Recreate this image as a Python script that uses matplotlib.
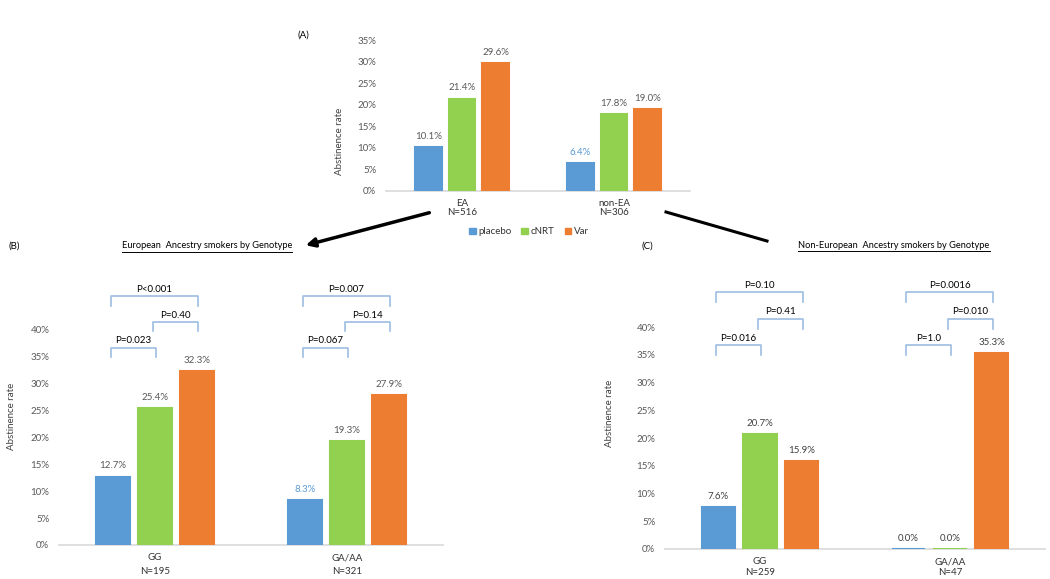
import numpy as np
import matplotlib
matplotlib.use('Agg')
import matplotlib.pyplot as plt
from matplotlib.patches import Patch, FancyArrowPatch
from matplotlib.lines import Line2D

plt.rcParams['font.family'] = ['Lato', 'DejaVu Sans']

treatments = ['placebo', 'cNRT', 'Var']
colors = ['#5B9BD5', '#92D050', '#ED7D31']

# panel A
a_groups = ['EA\nN=516', 'non-EA\nN=306']
a_values = [[0.101, 0.064], [0.214, 0.178], [0.296, 0.190]]

# panel B
b_groups = ['GG\nN=195', 'GA/AA\nN=321']
b_values = [[0.127, 0.083], [0.254, 0.193], [0.323, 0.279]]
b_pvals = [(0, 0, 2, 2, 'P<0.001'), (0, 1, 2, 1, 'P=0.40'), (0, 0, 1, 0, 'P=0.023'),
           (1, 0, 2, 2, 'P=0.007'), (1, 1, 2, 1, 'P=0.14'), (1, 0, 1, 0, 'P=0.067')]

# panel C
c_groups = ['GG\nN=259', 'GA/AA\nN=47']
c_values = [[0.076, 0.0], [0.207, 0.0], [0.159, 0.353]]
c_pvals = [(0, 0, 2, 2, 'P=0.10'), (0, 1, 2, 1, 'P=0.41'), (0, 0, 1, 0, 'P=0.016'),
           (1, 0, 2, 2, 'P=0.0016'), (1, 1, 2, 1, 'P=0.010'), (1, 0, 1, 0, 'P=1.0')]

W, H = 1050, 579
FS = 7
fig = plt.figure(figsize=(W / 100, H / 100), dpi=100)
fig.patch.set_facecolor('white')


def px_axes(x0, x1, ytop, ybot):
    return fig.add_axes([x0 / W, 1 - ybot / H, (x1 - x0) / W, (ybot - ytop) / H])


def bar_panel(ax, groups, values, ymax, ticktop, lblcolor, blue_low=None,
              lspace=1.2, xpad=5):
    x = np.arange(len(groups))
    offs = 0.22
    width = 0.175
    for i, vals in enumerate(values):
        xs = x + (i - 1) * offs
        ax.bar(xs, vals, width, color=colors[i], edgecolor=colors[i],
               linewidth=1.5, label=treatments[i], zorder=3)
        for j, (xx, v) in enumerate(zip(xs, vals)):
            c = lblcolor
            if blue_low is not None and (i, j) == blue_low:
                c = colors[0]
            ax.annotate('%.1f%%' % (v * 100), (xx, v), xytext=(0, 4.5),
                        textcoords='offset points', ha='center', va='bottom',
                        fontsize=FS, color=c)
    ax.set_xlim(-0.5, len(groups) - 0.5)
    ax.set_ylim(0, ymax)
    ax.set_yticks(np.arange(0, ticktop + 0.001, 0.05))
    ax.set_yticklabels(['%d%%' % round(t * 100) for t in ax.get_yticks()])
    ax.set_xticks(x)
    ax.set_xticklabels(groups, fontsize=FS, color='#333333', linespacing=lspace)
    ax.tick_params(axis='y', length=0, pad=7, labelsize=FS, labelcolor='#595959')
    ax.tick_params(axis='x', length=0, pad=xpad)
    for s in ['top', 'right', 'left']:
        ax.spines[s].set_visible(False)
    ax.spines['bottom'].set_color('#D9D9D9')
    ax.spines['bottom'].set_linewidth(1.2)
    ax.patch.set_alpha(0)


def brackets(ax, pvals):
    offs = 0.22
    for g, i, j, lev, txt in pvals:
        x0 = g + (i - 1) * offs - 0.01
        x1 = g + (j - 1) * offs + 0.005
        y = 0.367 + lev * 0.048
        ax.plot([x0, x0, x1, x1], [y - 0.018, y, y, y - 0.018],
                color='#9DBDE2', lw=1.2, clip_on=False)
        ax.text((x0 + x1) / 2, y + 0.004, txt, ha='center', va='bottom',
                fontsize=FS, color='black')


# (A)
axA = px_axes(386, 690, 40, 191)
bar_panel(axA, a_groups, a_values, 0.35, 0.35, '#595959', blue_low=(0, 1),
          lspace=1.0, xpad=6)
fig.text(340 / W, 1 - 141 / H, 'Abstinence rate', rotation=90, ha='center',
         va='center', fontsize=FS, color='#404040')
fig.text(303 / W, 1 - 35 / H, '(A)', ha='center', va='center', fontsize=FS)
handles = [Patch(facecolor=c, edgecolor=c) for c in colors]
fig.legend(handles, treatments, loc='center', bbox_to_anchor=(529 / W, 1 - 232 / H),
           ncol=3, frameon=False, fontsize=FS, handlelength=0.7, handleheight=0.7,
           handletextpad=0.3, columnspacing=1.0, labelcolor='#333333')

# (B)
axB = px_axes(59, 443, 276, 545)
bar_panel(axB, b_groups, b_values, 0.5, 0.40, '#595959', blue_low=(0, 1),
          lspace=1.65, xpad=6)
brackets(axB, b_pvals)
fig.text(12 / W, 1 - 416 / H, 'Abstinence rate', rotation=90, ha='center',
         va='center', fontsize=FS, color='#404040')
fig.text(14 / W, 1 - 246 / H, '(B)', ha='center', va='center', fontsize=FS)
tB = fig.text(207 / W, 1 - 246 / H, 'European  Ancestry smokers by Genotype',
              ha='center', va='center', fontsize=6.7)

# (C)
axC = px_axes(665, 1045, 271.5, 549)
bar_panel(axC, c_groups, c_values, 0.5, 0.40, '#404040', lspace=1.25, xpad=6)
brackets(axC, c_pvals)
fig.text(610 / W, 1 - 413 / H, 'Abstinence rate', rotation=90, ha='center',
         va='center', fontsize=FS, color='#404040')
fig.text(647 / W, 1 - 246 / H, '(C)', ha='center', va='center', fontsize=FS)
tC = fig.text(894 / W, 1 - 245 / H, 'Non-European  Ancestry smokers by Genotype',
              ha='center', va='center', fontsize=6.7)

# underline titles
fig.canvas.draw()
for t in [tB, tC]:
    bb = t.get_window_extent()
    fig.add_artist(Line2D([bb.x0 / W, bb.x1 / W], [(bb.y0 - 1) / H, (bb.y0 - 1) / H],
                          color='black', lw=0.7, transform=fig.transFigure))

# connector arrows
arr = FancyArrowPatch((432 / W, 1 - 212 / H), (303 / W, 1 - 246 / H),
                      transform=fig.transFigure, arrowstyle='-|>', mutation_scale=13,
                      lw=2.5, color='black')
fig.add_artist(arr)
fig.add_artist(Line2D([666 / W, 767 / W], [1 - 212 / H, 1 - 241 / H],
                      color='black', lw=2.2, transform=fig.transFigure))

fig.savefig('out.png', dpi=100)
